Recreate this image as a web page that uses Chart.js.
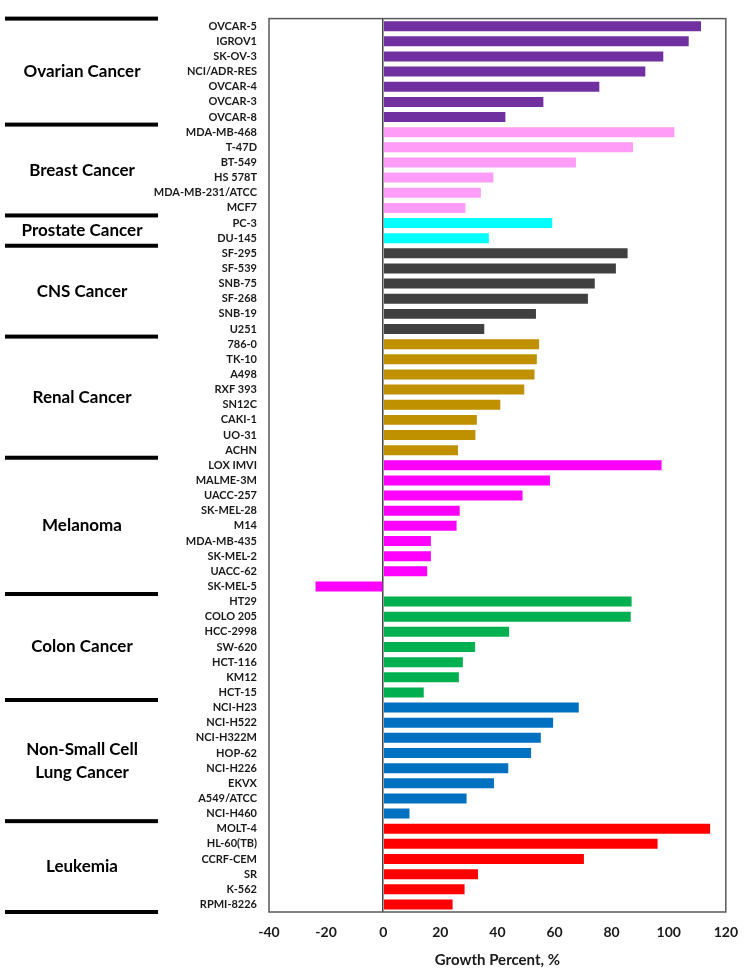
<!DOCTYPE html>
<html>
<head>
<meta charset="utf-8">
<script src="https://cdn.jsdelivr.net/npm/chart.js@4.4.0/dist/chart.umd.min.js"></script>
<style>
  html, body { margin: 0; padding: 0; background: #fff; }
  #wrap { width: 750px; height: 969px; }
</style>
</head>
<body>
<div id="wrap"><canvas id="chart1"></canvas></div>
<script>
const cellLines = [
  'OVCAR-5', 'IGROV1', 'SK-OV-3', 'NCI/ADR-RES', 'OVCAR-4', 'OVCAR-3', 'OVCAR-8',
  'MDA-MB-468', 'T-47D', 'BT-549', 'HS 578T', 'MDA-MB-231/ATCC', 'MCF7',
  'PC-3', 'DU-145',
  'SF-295', 'SF-539', 'SNB-75', 'SF-268', 'SNB-19', 'U251',
  '786-0', 'TK-10', 'A498', 'RXF 393', 'SN12C', 'CAKI-1', 'UO-31', 'ACHN',
  'LOX IMVI', 'MALME-3M', 'UACC-257', 'SK-MEL-28', 'M14', 'MDA-MB-435', 'SK-MEL-2', 'UACC-62', 'SK-MEL-5',
  'HT29', 'COLO 205', 'HCC-2998', 'SW-620', 'HCT-116', 'KM12', 'HCT-15',
  'NCI-H23', 'NCI-H522', 'NCI-H322M', 'HOP-62', 'NCI-H226', 'EKVX', 'A549/ATCC', 'NCI-H460',
  'MOLT-4', 'HL-60(TB)', 'CCRF-CEM', 'SR', 'K-562', 'RPMI-8226'
];

const growth = [
  111.3, 107.0, 98.1, 91.8, 75.7, 56.1, 42.8,
  102.0, 87.5, 67.5, 38.6, 34.2, 28.8,
  59.2, 37.0,
  85.6, 81.5, 74.1, 71.7, 53.5, 35.4,
  54.6, 53.8, 53.0, 49.4, 41.0, 32.8, 32.3, 26.2,
  97.5, 58.4, 48.8, 26.8, 25.7, 16.7, 16.7, 15.4, -23.7,
  87.0, 86.7, 44.1, 32.2, 27.9, 26.5, 14.2,
  68.5, 59.5, 55.2, 51.8, 43.8, 38.8, 29.2, 9.2,
  114.5, 96.1, 70.3, 33.2, 28.5, 24.3
];

const groupNames = [
  ['Ovarian Cancer'], ['Breast Cancer'], ['Prostate Cancer'], ['CNS Cancer'],
  ['Renal Cancer'], ['Melanoma'], ['Colon Cancer'], ['Non-Small Cell', 'Lung Cancer'], ['Leukemia']
];
const groupSizes = [7, 6, 2, 6, 8, 9, 7, 8, 6];
const groupColors = ['#7030a0', '#ff9cf7', '#00ffff', '#404040', '#bf9000', '#ff00ff', '#00b050', '#0070c0', '#ff0000'];

const xTicks = [-40, -20, 0, 20, 40, 60, 80, 100, 120];

// colour of each bar from its group
const barColors = [];
groupSizes.forEach((n, g) => {
  for (let i = 0; i < n; i++) barColors.push(groupColors[g]);
});

const FONT = 'Lato, "Open Sans", sans-serif';

// group names and thick separators on the left, plus the frame round the plot
const groupPlugin = {
  id: 'groups',
  afterDraw(chart) {
    const c = chart.ctx;
    const y = chart.scales.y;
    const area = chart.chartArea;
    const step = y.getPixelForValue(1) - y.getPixelForValue(0);
    const edge = i => y.getPixelForValue(i) - step / 2;

    c.save();
    c.fillStyle = '#000';
    let start = 0;
    c.fillRect(5, edge(0) - 2, 153, 4);
    groupSizes.forEach((n, g) => {
      const end = start + n;
      c.fillRect(5, edge(end) - 2, 153, 4);
      const mid = (edge(start) + edge(end)) / 2;
      const lines = groupNames[g];
      c.font = 'bold 17px ' + FONT;
      c.textAlign = 'center';
      c.textBaseline = 'middle';
      lines.forEach((t, k) => {
        c.fillText(t, 82, mid + (k - (lines.length - 1) / 2) * 23);
      });
      start = end;
    });

    c.strokeStyle = '#595959';
    c.lineWidth = 1.5;
    c.strokeRect(area.left, area.top, area.right - area.left, area.bottom - area.top);
    c.restore();
  }
};

new Chart(document.getElementById('chart1'), {
  type: 'bar',
  data: {
    labels: cellLines,
    datasets: [{
      data: growth,
      backgroundColor: barColors,
      borderWidth: 0,
      barPercentage: 0.66,
      categoryPercentage: 1.0
    }]
  },
  options: {
    indexAxis: 'y',
    responsive: true,
    maintainAspectRatio: false,
    animation: false,
    layout: { padding: { top: 12, right: 21, left: 0, bottom: 0 } },
    scales: {
      x: {
        min: -40,
        max: 120,
        afterBuildTicks: s => { s.ticks = xTicks.map(v => ({ value: v })); },
        afterFit: s => { s.height = 57; },
        border: { display: false },
        grid: {
          drawTicks: false,
          lineWidth: 1.5,
          color: ctx => (ctx.tick && ctx.tick.value === 0) ? '#444' : 'rgba(0,0,0,0)'
        },
        ticks: {
          padding: 12,
          color: '#1a1a1a',
          font: { family: FONT, size: 14, weight: 'bold' }
        },
        title: {
          display: true,
          text: 'Growth Percent, %',
          color: '#1a1a1a',
          padding: { top: 4, bottom: 0 },
          font: { family: FONT, size: 15, weight: 'bold' }
        }
      },
      y: {
        afterFit: s => { s.width = 269; },
        border: { display: false },
        grid: { display: false, drawTicks: false },
        ticks: {
          padding: 12,
          autoSkip: false,
          color: '#1a1a1a',
          font: { family: FONT, size: 11, weight: 'bold' }
        }
      }
    },
    plugins: {
      legend: { display: false },
      tooltip: { enabled: false }
    }
  },
  plugins: [groupPlugin]
});
</script>
</body>
</html>
